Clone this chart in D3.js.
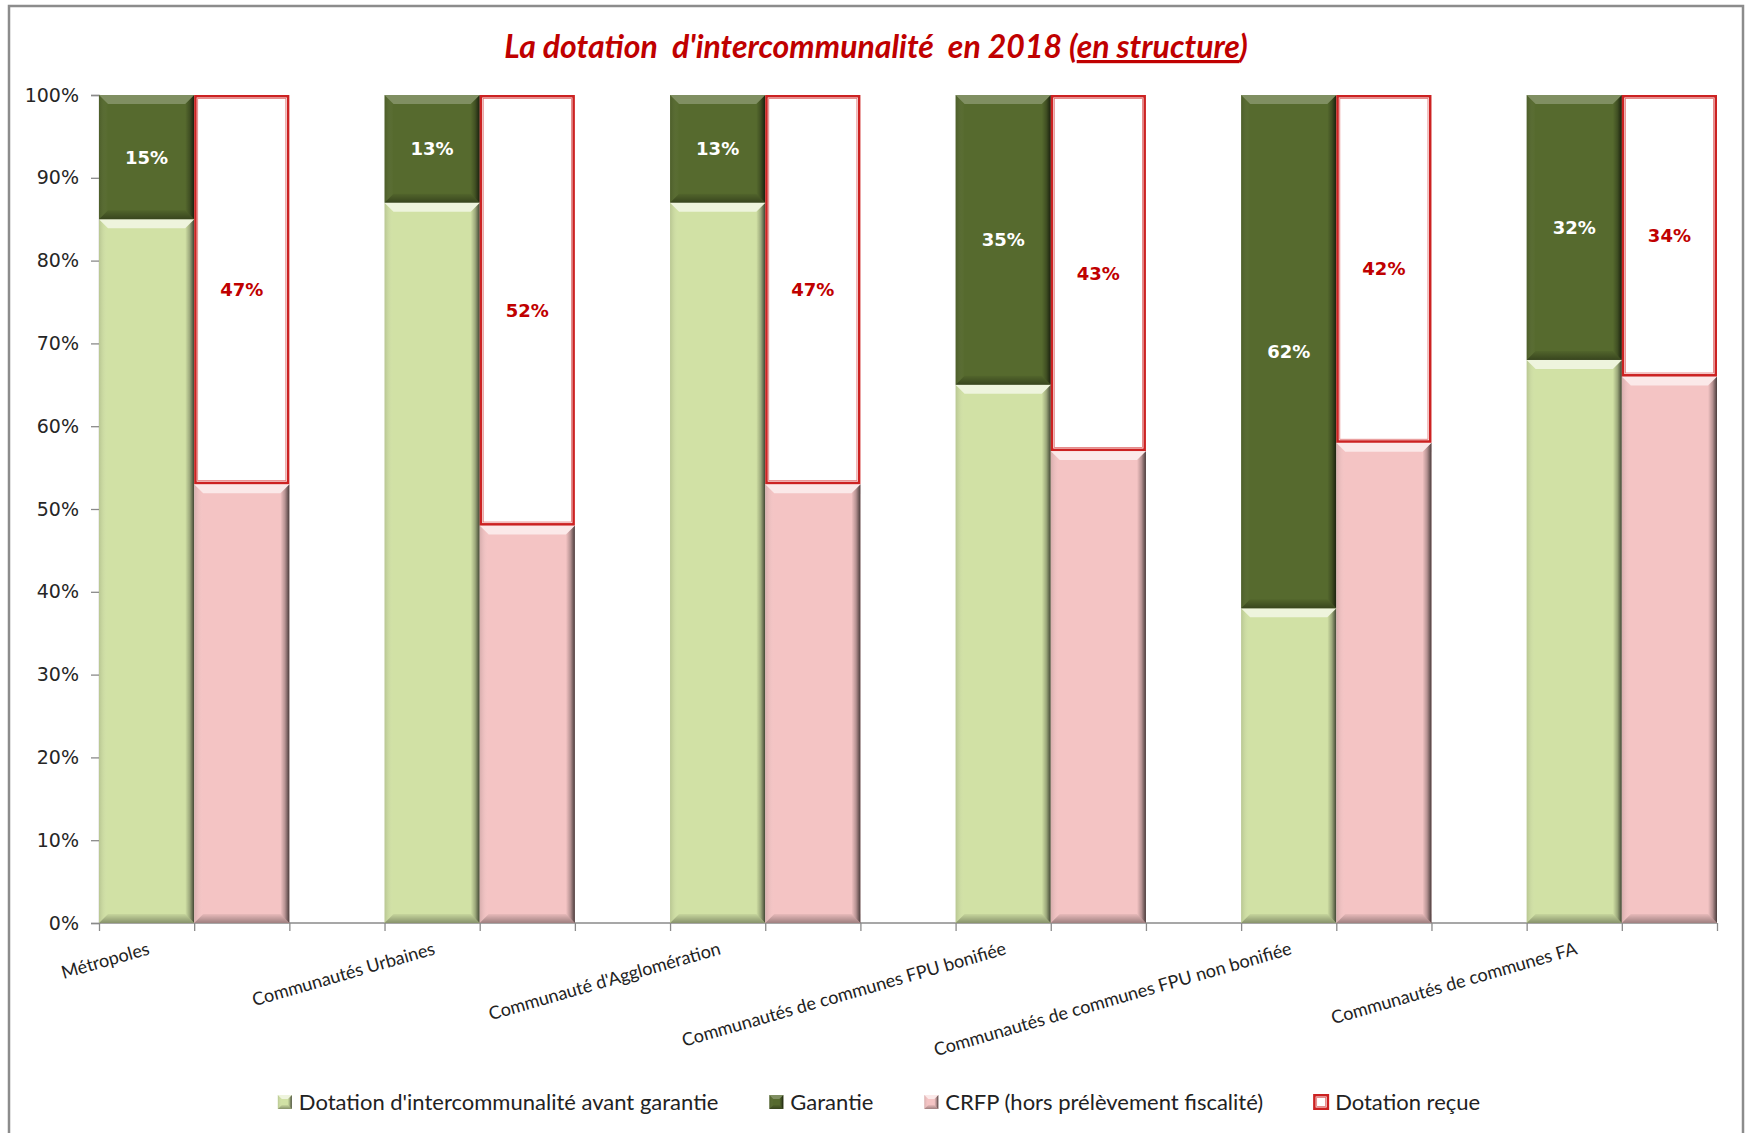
<!DOCTYPE html>
<html>
<head>
<meta charset="utf-8">
<script src="https://cdn.jsdelivr.net/npm/d3@7"></script>
<style>
  body { margin: 0; background: #ffffff; }
  svg { display: block; }
</style>
</head>
<body>
<svg id="chart" width="1751" height="1133"></svg>
<script>
// ---- Data -------------------------------------------------------------
const categories = [
  "Métropoles",
  "Communautés Urbaines",
  "Communauté d'Agglomération",
  "Communautés de communes FPU bonifiée",
  "Communautés de communes FPU non bonifiée",
  "Communautés de communes FA"
];
// Left bar of each group (percent of the dotation)
const dotationAvantGarantie = [85, 87, 87, 65, 38, 68];
const garantie              = [15, 13, 13, 35, 62, 32];
// Right bar of each group (percent)
const crfp                  = [53, 48, 53, 57, 58, 66];
const dotationRecue         = [47, 52, 47, 43, 42, 34];

const yTickValues = [0, 10, 20, 30, 40, 50, 60, 70, 80, 90, 100];
const seriesNames = [
  "Dotation d'intercommunalité avant garantie",
  "Garantie",
  "CRFP (hors prélèvement fiscalité)",
  "Dotation reçue"
];
const titleText = "La dotation  d'intercommunalité  en 2018 (";
const titleUnderlined = "en structure";

// ---- Styles -----------------------------------------------------------
const COLORS = {
  lightGreen: "#d1e1a5",
  darkGreen: "#566a2e",
  pink: "#f4c4c4",
  red: "#c00000",
  border: "#cc2222"
};
const HIGHLIGHT = { lightGreen: 0.62, darkGreen: 0.25, pink: 0.62 };

const svg = d3.select("#chart");
const plot = { left: 99, right: 1717, top: 95, bottom: 923 };

// gradients used by the bevelled bars
const defs = svg.append("defs");
function grad(id, x2, y2, stops) {
  const g = defs.append("linearGradient").attr("id", id)
    .attr("x1", 0).attr("y1", 0).attr("x2", x2).attr("y2", y2);
  stops.forEach(s => g.append("stop").attr("offset", s[0])
    .attr("stop-color", s[1]).attr("stop-opacity", s[2]));
}
grad("bevelRight", 1, 0, [[0, "#000", 0.0], [0.5, "#000", 0.25], [1, "#000", 0.7]]);
grad("bevelBottom", 0, 1, [[0, "#000", 0.05], [1, "#000", 0.35]]);
grad("bevelLeft", 1, 0, [[0, "#000", 0.12], [1, "#fff", 0.0]]);

// ---- Frame ------------------------------------------------------------
svg.append("rect")
  .attr("x", 9).attr("y", 6).attr("width", 1734).attr("height", 1160)
  .attr("fill", "#ffffff").attr("stroke", "#8c8c8c").attr("stroke-width", 2.5);

// ---- Title ------------------------------------------------------------
const title = svg.append("text")
  .attr("x", 876).attr("y", 58)
  .attr("text-anchor", "middle")
  .style("white-space", "pre")
  .attr("font-family", "Lato, 'Open Sans', sans-serif")
  .attr("font-weight", 700).attr("font-style", "italic")
  .attr("font-size", 32).attr("fill", COLORS.red);
title.append("tspan").text(titleText);
title.append("tspan").attr("text-decoration", "underline").text(titleUnderlined);
title.append("tspan").text(")");

// ---- Scales -----------------------------------------------------------
// Each group is two adjacent bar slots followed by an empty slot.
const slots = [];
categories.forEach((c, i) => {
  slots.push(`g${i}-a`, `g${i}-b`);
  if (i < categories.length - 1) slots.push(`g${i}-gap`);
});
const x = d3.scaleBand().domain(slots).range([plot.left, plot.right]).padding(0);
const y = d3.scaleLinear().domain([0, 100]).range([plot.bottom, plot.top]);

// ---- Axes -------------------------------------------------------------
const yAxis = svg.append("g")
  .attr("transform", `translate(${plot.left},0)`)
  .call(d3.axisLeft(y).tickValues(yTickValues).tickSize(8).tickPadding(12)
    .tickFormat(d => d + "%"));
yAxis.select(".domain").attr("stroke", "#8a8a8a").attr("stroke-width", 1.3);
yAxis.selectAll(".tick line").attr("stroke", "#8a8a8a").attr("stroke-width", 1.3);
yAxis.selectAll(".tick text")
  .attr("font-family", "'DejaVu Sans', sans-serif").attr("font-size", 19)
  .attr("fill", "#262626");

// category boundaries get tick marks, as on a category axis
const boundaries = slots.map(s => x(s)).concat([plot.right]);
const xAxisScale = d3.scaleLinear().domain([plot.left, plot.right]).range([plot.left, plot.right]);
const xAxis = svg.append("g")
  .attr("transform", `translate(0,${plot.bottom})`)
  .call(d3.axisBottom(xAxisScale).tickValues(boundaries).tickSize(8).tickFormat(""));
xAxis.select(".domain").attr("stroke", "#8a8a8a").attr("stroke-width", 1.3)
  .attr("d", `M${plot.left},0H${plot.right}`);
xAxis.selectAll(".tick line").attr("stroke", "#8a8a8a").attr("stroke-width", 1.3);

// ---- Bevelled bar segment -------------------------------------------
function bevelRect(g, x0, x1, yTop, yBot, colorKey, b) {
  const h = yBot - yTop;
  b = Math.min(b, h / 2, (x1 - x0) / 2);
  g.append("rect").attr("x", x0).attr("y", yTop)
    .attr("width", x1 - x0).attr("height", h).attr("fill", COLORS[colorKey]);
  const pts = a => a.map(p => p.join(",")).join(" ");
  // left face
  g.append("polygon").attr("points", pts([[x0, yTop], [x0 + b, yTop + b], [x0 + b, yBot - b], [x0, yBot]]))
    .attr("fill", "url(#bevelLeft)");
  // right face
  g.append("polygon").attr("points", pts([[x1, yTop], [x1, yBot], [x1 - b, yBot - b], [x1 - b, yTop + b]]))
    .attr("fill", "url(#bevelRight)");
  // bottom face
  g.append("polygon").attr("points", pts([[x0, yBot], [x1, yBot], [x1 - b, yBot - b], [x0 + b, yBot - b]]))
    .attr("fill", "url(#bevelBottom)");
  // top face (lit)
  g.append("polygon").attr("points", pts([[x0, yTop], [x1, yTop], [x1 - b, yTop + b], [x0 + b, yTop + b]]))
    .attr("fill", "#ffffff").attr("fill-opacity", HIGHLIGHT[colorKey]);
}

function outlinedRect(g, x0, x1, yTop, yBot) {
  g.append("rect").attr("x", x0 + 1.25).attr("y", yTop + 1.25)
    .attr("width", x1 - x0 - 2.5).attr("height", yBot - yTop - 2.5)
    .attr("fill", "#ffffff").attr("stroke", COLORS.border).attr("stroke-width", 2.5);
  g.append("rect").attr("x", x0 + 3.5).attr("y", yTop + 3.5)
    .attr("width", x1 - x0 - 7).attr("height", yBot - yTop - 7)
    .attr("fill", "none").attr("stroke", "#e07070").attr("stroke-width", 0.8);
}

// ---- Bars -------------------------------------------------------------
const bars = svg.append("g");
const labels = svg.append("g")
  .attr("font-family", "'DejaVu Sans', sans-serif").attr("font-weight", 700)
  .attr("font-size", 18).attr("text-anchor", "middle");

categories.forEach((c, i) => {
  const xa = x(`g${i}-a`), xb = x(`g${i}-b`), bw = x.bandwidth();
  const g = bars.append("g");

  // left bar: dotation avant garantie + garantie
  const di = dotationAvantGarantie[i];
  bevelRect(g, xa, xa + bw, y(di), y(0), "lightGreen", 9);
  bevelRect(g, xa, xa + bw, y(di + garantie[i]), y(di), "darkGreen", 9);

  // right bar: CRFP + dotation reçue
  const cr = crfp[i];
  bevelRect(g, xb, xb + bw, y(cr), y(0), "pink", 9);
  outlinedRect(g, xb, xb + bw, y(cr + dotationRecue[i]), y(cr));

  labels.append("text")
    .attr("x", xa + bw / 2).attr("y", y(di + garantie[i] / 2))
    .attr("dy", "0.36em").attr("fill", "#ffffff")
    .text(garantie[i] + "%");
  labels.append("text")
    .attr("x", xb + bw / 2).attr("y", y(cr + dotationRecue[i] / 2))
    .attr("dy", "0.36em").attr("fill", COLORS.red)
    .text(dotationRecue[i] + "%");

  // category label, rotated, ending under the first bar of the group
  svg.append("text")
    .attr("transform", `translate(${xa + bw / 2 + 4},${plot.bottom + 31}) rotate(-16)`)
    .attr("text-anchor", "end")
    .attr("font-family", "Lato, 'Open Sans', sans-serif").attr("font-size", 18)
    .attr("fill", "#222222")
    .text(c);
});

// ---- Legend -----------------------------------------------------------
const legend = svg.append("g")
  .attr("font-family", "Lato, 'Open Sans', sans-serif").attr("font-size", 22).attr("fill", "#222222");
const legendY = 1102, markerSize = 14, markerGap = 7, itemGap = 51;
const items = seriesNames.map((name, k) => {
  const gi = legend.append("g");
  const t = gi.append("text").attr("x", markerSize + markerGap).attr("y", legendY)
    .attr("dy", "0.35em").text(name);
  return { g: gi, k, w: markerSize + markerGap + t.node().getComputedTextLength() };
});
const totalW = d3.sum(items, d => d.w) + itemGap * (items.length - 1);
let lx = 879 - totalW / 2;
const markerKeys = ["lightGreen", "darkGreen", "pink", null];
items.forEach(it => {
  it.g.attr("transform", `translate(${lx},0)`);
  const y0 = legendY - markerSize / 2, y1 = legendY + markerSize / 2;
  if (markerKeys[it.k]) {
    bevelRect(it.g, 0, markerSize, y0, y1, markerKeys[it.k], 4);
  } else {
    outlinedRect(it.g, -1, markerSize + 1, y0 - 1, y1 + 1);
  }
  lx += it.w + itemGap;
});
</script>
</body>
</html>
